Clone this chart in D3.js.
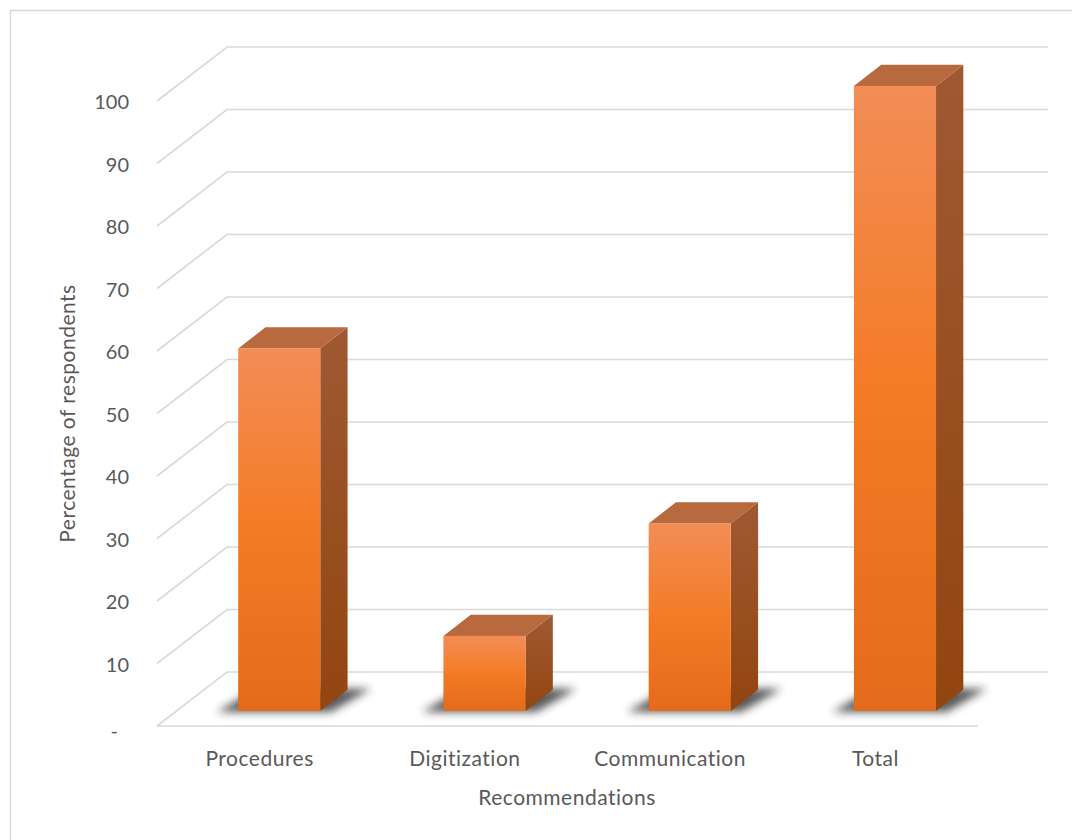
<!DOCTYPE html>
<html>
<head>
<meta charset="utf-8">
<script src="https://cdn.jsdelivr.net/npm/d3@7"></script>
<style>
  html, body { margin: 0; padding: 0; background: #fff; }
  svg { display: block; }
  text { font-family: Lato, "Open Sans", sans-serif; fill: #595959; }
</style>
</head>
<body>
<svg id="chart" width="1072" height="840"></svg>
<script>
const categories = ["Procedures", "Digitization", "Communication", "Total"];
const values = [58, 12, 30, 100];
const tickValues = [0, 10, 20, 30, 40, 50, 60, 70, 80, 90, 100];
const tickLabels = ["-", "10", "20", "30", "40", "50", "60", "70", "80", "90", "100"];
const yAxisTitle = "Percentage of respondents";
const xAxisTitle = "Recommendations";

const svg = d3.select("#chart");
const W = 1072, H = 840;

// frame
svg.append("rect").attr("x", 10.5).attr("y", 10.5).attr("width", W + 20).attr("height", H + 20)
  .attr("fill", "none").attr("stroke", "#d9d9d9").attr("stroke-width", 1.5);

// 3D geometry
const depthDX = 70, depthDY = -54;
const x = d3.scaleBand().domain(categories).range([157, 978]).paddingInner(0.6).paddingOuter(0.3);
const xFloor = d3.scaleBand().domain(categories).range([157, 978]).padding(0);
const y = d3.scaleLinear().domain([0, 100]).range([726, 101]);
const proj = (px, v, z) => [px + z * depthDX, y(v) + z * depthDY];
const z0 = 0.28, z1 = 0.67;

const defs = svg.append("defs");
const gFront = defs.append("linearGradient").attr("id", "front").attr("x1", 0).attr("y1", 0).attr("x2", 0).attr("y2", 1);
gFront.append("stop").attr("offset", "0%").attr("stop-color", "#F28D56");
gFront.append("stop").attr("offset", "50%").attr("stop-color", "#F47B25");
gFront.append("stop").attr("offset", "100%").attr("stop-color", "#E36B1B");
const gSide = defs.append("linearGradient").attr("id", "side").attr("x1", 0).attr("y1", 0).attr("x2", 0).attr("y2", 1);
gSide.append("stop").attr("offset", "0%").attr("stop-color", "#9F5932");
gSide.append("stop").attr("offset", "100%").attr("stop-color", "#93450F");
const blur = defs.append("filter").attr("id", "blur").attr("x", "-50%").attr("y", "-100%").attr("width", "200%").attr("height", "300%");
blur.append("feGaussianBlur").attr("stdDeviation", 4);

// gridlines
const grid = svg.append("g").attr("fill", "none").attr("stroke", "#d9d9d9").attr("stroke-width", 1.6);
const [xl, xr] = xFloor.range();
tickValues.forEach(v => {
  const a = proj(xl, v, 0), b = proj(xl, v, 1), c = proj(xr, v, 1);
  grid.append("path").attr("d", d3.line()([a, b, c]));
});
// floor front edge
grid.append("path").attr("d", d3.line()([proj(xl, 0, 0), proj(xr, 0, 0)]));

// y tick labels
svg.append("g").selectAll("text").data(tickValues).join("text")
  .attr("x", (d, i) => i === 0 ? 118 : 129)
  .attr("y", d => y(d) + (d === 0 ? 4 : 0))
  .attr("text-anchor", "end").attr("dominant-baseline", "central")
  .attr("font-size", 20)
  .text((d, i) => tickLabels[i]);

// category labels
svg.append("g").selectAll("text").data(categories).join("text")
  .attr("x", d => xFloor(d) + xFloor.bandwidth() / 2)
  .attr("y", 757).attr("text-anchor", "middle").attr("dominant-baseline", "central")
  .attr("font-size", 21).attr("letter-spacing", 0.5).text(d => d);

// axis titles
svg.append("text").attr("x", 567).attr("y", 796).attr("text-anchor", "middle")
  .attr("dominant-baseline", "central").attr("font-size", 21).attr("letter-spacing", 0.5).text(xAxisTitle);
svg.append("text").attr("transform", `translate(66,${(y(0) + y(100)) / 2}) rotate(-90)`)
  .attr("text-anchor", "middle").attr("dominant-baseline", "central")
  .attr("font-size", 21).attr("letter-spacing", 0.5).text(yAxisTitle);

// shadows
const shadows = svg.append("g");
categories.forEach((c, i) => {
  const bx0 = x(c) - 20, bx1 = x(c) + x.bandwidth() + 22;
  const pts = [proj(bx0, 0, z0 - 0.02), proj(bx1 - 10, 0, z0 - 0.02), proj(bx1, 0, z1 + 0.02), proj(bx0 + 10, 0, z1 + 0.02)];
  shadows.append("path").attr("d", d3.line()(pts) + "Z")
    .attr("fill", "#222").attr("opacity", 0.75).attr("filter", "url(#blur)");
});

// bars
const bars = svg.append("g");
categories.forEach((c, i) => {
  const v = values[i];
  const bx0 = x(c), bx1 = x(c) + x.bandwidth();
  const g = bars.append("g");
  // side
  g.append("path").attr("d", d3.line()([proj(bx1, 0, z0), proj(bx1, v, z0), proj(bx1, v, z1), proj(bx1, 0, z1)]) + "Z")
    .attr("fill", "url(#side)");
  // top
  g.append("path").attr("d", d3.line()([proj(bx0, v, z0), proj(bx1, v, z0), proj(bx1, v, z1), proj(bx0, v, z1)]) + "Z")
    .attr("fill", "#B8693D");
  // front
  const tl = proj(bx0, v, z0), br = proj(bx1, 0, z0);
  g.append("rect").attr("x", tl[0]).attr("y", tl[1]).attr("width", br[0] - tl[0]).attr("height", br[1] - tl[1])
    .attr("fill", "url(#front)");
});
</script>
</body>
</html>
